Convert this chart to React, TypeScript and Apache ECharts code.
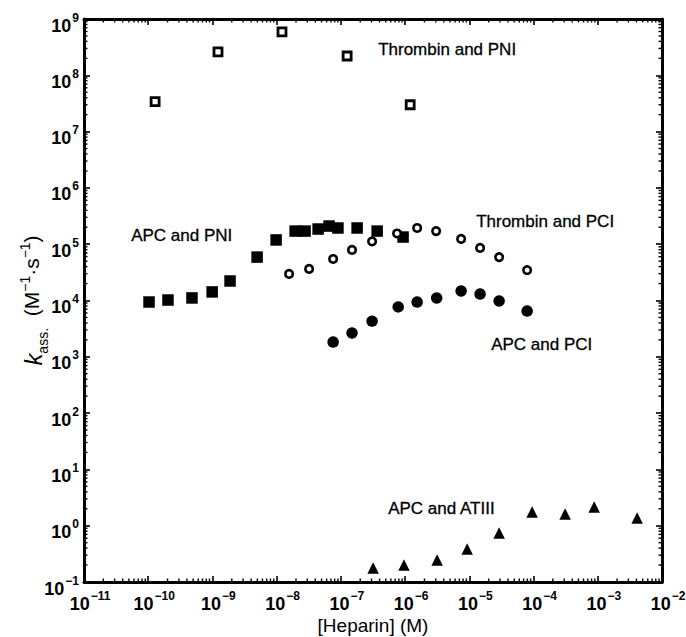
import React, { useEffect, useRef } from "react";
import * as echarts from "echarts";

// ---- data ----
const thrombinPNI: [number, number][] = [
  [1.28e-10, 3.4e7],
  [1.22e-9, 2.6e8],
  [1.21e-8, 5.9e8],
  [1.25e-7, 2.2e8],
  [1.2e-6, 3.0e7],
];
const apcPNI: [number, number][] = [
  [1.03e-10, 9.4e3],
  [2.03e-10, 1.02e4],
  [4.8e-10, 1.11e4],
  [9.9e-10, 1.42e4],
  [1.88e-9, 2.22e4],
  [4.96e-9, 5.9e4],
  [9.8e-9, 1.19e5],
  [1.94e-8, 1.71e5],
  [2.77e-8, 1.71e5],
  [4.42e-8, 1.86e5],
  [6.55e-8, 2.1e5],
  [9.0e-8, 1.94e5],
  [1.79e-7, 1.94e5],
  [3.67e-7, 1.71e5],
  [9.3e-7, 1.34e5],
];
const thrombinPCI: [number, number][] = [
  [1.56e-8, 2.96e4],
  [3.2e-8, 3.63e4],
  [7.57e-8, 5.46e4],
  [1.49e-7, 7.9e4],
  [3.06e-7, 1.12e5],
  [7.5e-7, 1.55e5],
  [1.54e-6, 1.94e5],
  [3.04e-6, 1.71e5],
  [7.45e-6, 1.24e5],
  [1.47e-5, 8.6e4],
  [2.91e-5, 5.9e4],
  [7.94e-5, 3.48e4],
];
const apcPCI: [number, number][] = [
  [7.57e-8, 1.83e3],
  [1.49e-7, 2.65e3],
  [3.06e-7, 4.3e3],
  [7.8e-7, 7.7e3],
  [1.54e-6, 9.4e3],
  [3.1e-6, 1.11e4],
  [7.45e-6, 1.48e4],
  [1.47e-5, 1.3e4],
  [2.91e-5, 9.8e3],
  [7.94e-5, 6.5e3],
];
const apcATIII: [number, number][] = [
  [3.18e-7, 0.177],
  [9.6e-7, 0.2],
  [3.15e-6, 0.246],
  [9.25e-6, 0.385],
  [2.91e-5, 0.74],
  [9.5e-5, 1.75],
  [3.1e-4, 1.61],
  [8.8e-4, 2.15],
  [4.1e-3, 1.37],
];
const seriesNames = [
  "Thrombin and PNI",
  "APC and PNI",
  "Thrombin and PCI",
  "APC and PCI",
  "APC and ATIII",
];
const xMinExp = -11;
const xMaxExp = -2;
const yMinExp = -1;
const yMaxExp = 9;

const FONT = '"Liberation Sans", Arial, Helvetica, sans-serif';

function minorValues(minExp: number, maxExp: number): number[] {
  const out: number[] = [];
  for (let e = minExp; e < maxExp; e++) {
    for (let m = 2; m <= 9; m++) out.push(m * Math.pow(10, e));
  }
  return out;
}

const expLabel = (v: number) => {
  const e = Math.round(Math.log10(v));
  const s = e < 0 ? "\u2212" + Math.abs(e) : String(e);
  return `{b|10}{s|${s}}`;
};

const labelRich = {
  b: { fontSize: 18, fontWeight: "bold", fontFamily: FONT, color: "#000", verticalAlign: "bottom", lineHeight: 23 },
  s: { fontSize: 12, fontWeight: "bold", fontFamily: FONT, color: "#000", verticalAlign: "top", lineHeight: 23, padding: [0, 0, 8, 1] },
};

export default function App() {
  const ref = useRef<HTMLDivElement>(null);
  useEffect(() => {
    document.body.style.margin = "0";
    if (!ref.current) return;
    const chart = echarts.init(ref.current, undefined, { renderer: "svg" });
    const xMin = Math.pow(10, xMinExp);
    const xMax = Math.pow(10, xMaxExp);
    const yMin = Math.pow(10, yMinExp);
    const yMax = Math.pow(10, yMaxExp);
    const axisLine = { show: true, lineStyle: { color: "#000", width: 3 } };
    const majorTick = { show: true, inside: true, length: 6, lineStyle: { color: "#000", width: 1.6 } };
    const xMinor = minorValues(xMinExp, xMaxExp).map((v) => [v, 1]);
    const yMinor = minorValues(yMinExp, yMaxExp).map((v) => [1e-6, v]);
    const tickStyle = { stroke: "#000", lineWidth: 1.4 };
    const scatterBase = { type: "scatter", xAxisIndex: 0, yAxisIndex: 0, z: 5 };
    const textStyle = { fontSize: 17, fontFamily: FONT, fill: "#000", stroke: "#000", lineWidth: 0.3 };
    chart.setOption({
      animation: false,
      backgroundColor: "#fff",
      grid: { left: 84, right: 24, top: 19, bottom: 55, containLabel: false, outerBoundsMode: "none" },
      xAxis: [
        {
          type: "log",
          logBase: 10,
          min: xMin,
          max: xMax,
          interval: 1,
          position: "bottom",
          name: "[Heparin] (M)",
          nameLocation: "middle",
          nameGap: 34,
          nameMoveOverlap: false,
          nameTextStyle: { fontSize: 19, fontFamily: FONT, color: "#000" },
          axisLine,
          axisTick: majorTick,
          splitLine: { show: false },
          minorTick: { show: false },
          axisLabel: {
            formatter: expLabel,
            rich: labelRich,
            margin: 8,
            padding: [0, 0, 0, 12],
            hideOverlap: false,
          },
        },
        {
          type: "log",
          logBase: 10,
          min: xMin,
          max: xMax,
          interval: 1,
          position: "top",
          axisLine,
          axisTick: majorTick,
          splitLine: { show: false },
          axisLabel: { show: false },
        },
      ],
      yAxis: [
        {
          type: "log",
          logBase: 10,
          min: yMin,
          max: yMax,
          interval: 1,
          position: "left",
          name: "{k|k}{sub|ass.}  (M{sup|\u22121}\u00b7s{sup|\u22121})",
          nameLocation: "middle",
          nameRotate: 90,
          nameGap: 39,
          nameMoveOverlap: false,
          nameTextStyle: {
            fontSize: 21,
            fontFamily: FONT,
            color: "#000",
            rich: {
              k: { fontSize: 24, fontStyle: "italic", fontFamily: FONT, color: "#000", verticalAlign: "bottom", lineHeight: 27 },
              sub: { fontSize: 14, fontFamily: FONT, color: "#000", verticalAlign: "bottom", lineHeight: 27, padding: [0, 0, -5, 0] },
              sup: { fontSize: 14, fontFamily: FONT, color: "#000", verticalAlign: "top", lineHeight: 27, padding: [0, 0, 6, 0] },
            },
          },
          axisLine,
          axisTick: majorTick,
          splitLine: { show: false },
          axisLabel: { formatter: expLabel, rich: labelRich, margin: 5, padding: [8, 0, 0, 0] },
        },
        {
          type: "log",
          logBase: 10,
          min: yMin,
          max: yMax,
          interval: 1,
          position: "right",
          axisLine,
          axisTick: majorTick,
          splitLine: { show: false },
          axisLabel: { show: false },
        },
      ],
      series: [
        {
          ...scatterBase,
          name: seriesNames[0],
          data: thrombinPNI,
          symbol: "rect",
          symbolSize: 8,
          itemStyle: { color: "#fff", borderColor: "#000", borderWidth: 2.8, opacity: 1 },
        },
        {
          ...scatterBase,
          name: seriesNames[1],
          data: apcPNI,
          symbol: "rect",
          symbolSize: 11.5,
          itemStyle: { color: "#000", opacity: 1 },
        },
        {
          ...scatterBase,
          name: seriesNames[2],
          data: thrombinPCI,
          symbol: "circle",
          symbolSize: 7.5,
          itemStyle: { color: "#fff", borderColor: "#000", borderWidth: 2.6, opacity: 1 },
        },
        {
          ...scatterBase,
          name: seriesNames[3],
          data: apcPCI,
          symbol: "circle",
          symbolSize: 11.5,
          itemStyle: { color: "#000", opacity: 1 },
        },
        {
          ...scatterBase,
          name: seriesNames[4],
          data: apcATIII,
          symbol: "triangle",
          symbolSize: 11.5,
          itemStyle: { color: "#000", opacity: 1 },
        },
        {
          type: "custom",
          name: "xMinorTicks",
          xAxisIndex: 0,
          yAxisIndex: 0,
          silent: true,
          z: 6,
          clip: false,
          data: xMinor,
          renderItem: (_p: any, api: any) => {
            const x = api.value(0);
            const pb = api.coord([x, yMin]);
            const pt = api.coord([x, yMax]);
            return {
              type: "group",
              children: [
                { type: "line", shape: { x1: pb[0], y1: pb[1], x2: pb[0], y2: pb[1] - 3.5 }, style: tickStyle },
                { type: "line", shape: { x1: pt[0], y1: pt[1], x2: pt[0], y2: pt[1] + 3.5 }, style: tickStyle },
              ],
            };
          },
        },
        {
          type: "custom",
          name: "yMinorTicks",
          xAxisIndex: 0,
          yAxisIndex: 0,
          silent: true,
          z: 6,
          clip: false,
          data: yMinor,
          renderItem: (_p: any, api: any) => {
            const y = api.value(1);
            const pl = api.coord([xMin, y]);
            const pr = api.coord([xMax, y]);
            return {
              type: "group",
              children: [
                { type: "line", shape: { x1: pl[0], y1: pl[1], x2: pl[0] + 3.5, y2: pl[1] }, style: tickStyle },
                { type: "line", shape: { x1: pr[0], y1: pr[1], x2: pr[0] - 3.5, y2: pr[1] }, style: tickStyle },
              ],
            };
          },
        },
      ],
      graphic: [
        { type: "text", left: 378, top: 41, style: { text: seriesNames[0], ...textStyle } },
        { type: "text", left: 131, top: 227, style: { text: seriesNames[1], ...textStyle } },
        { type: "text", left: 476, top: 213, style: { text: seriesNames[2], ...textStyle } },
        { type: "text", left: 491, top: 336, style: { text: seriesNames[3], ...textStyle } },
        { type: "text", left: 388, top: 500, style: { text: seriesNames[4], ...textStyle } },
      ],
    });
    return () => chart.dispose();
  }, []);
  return <div ref={ref} style={{ width: 686, height: 637 }} />;
}
